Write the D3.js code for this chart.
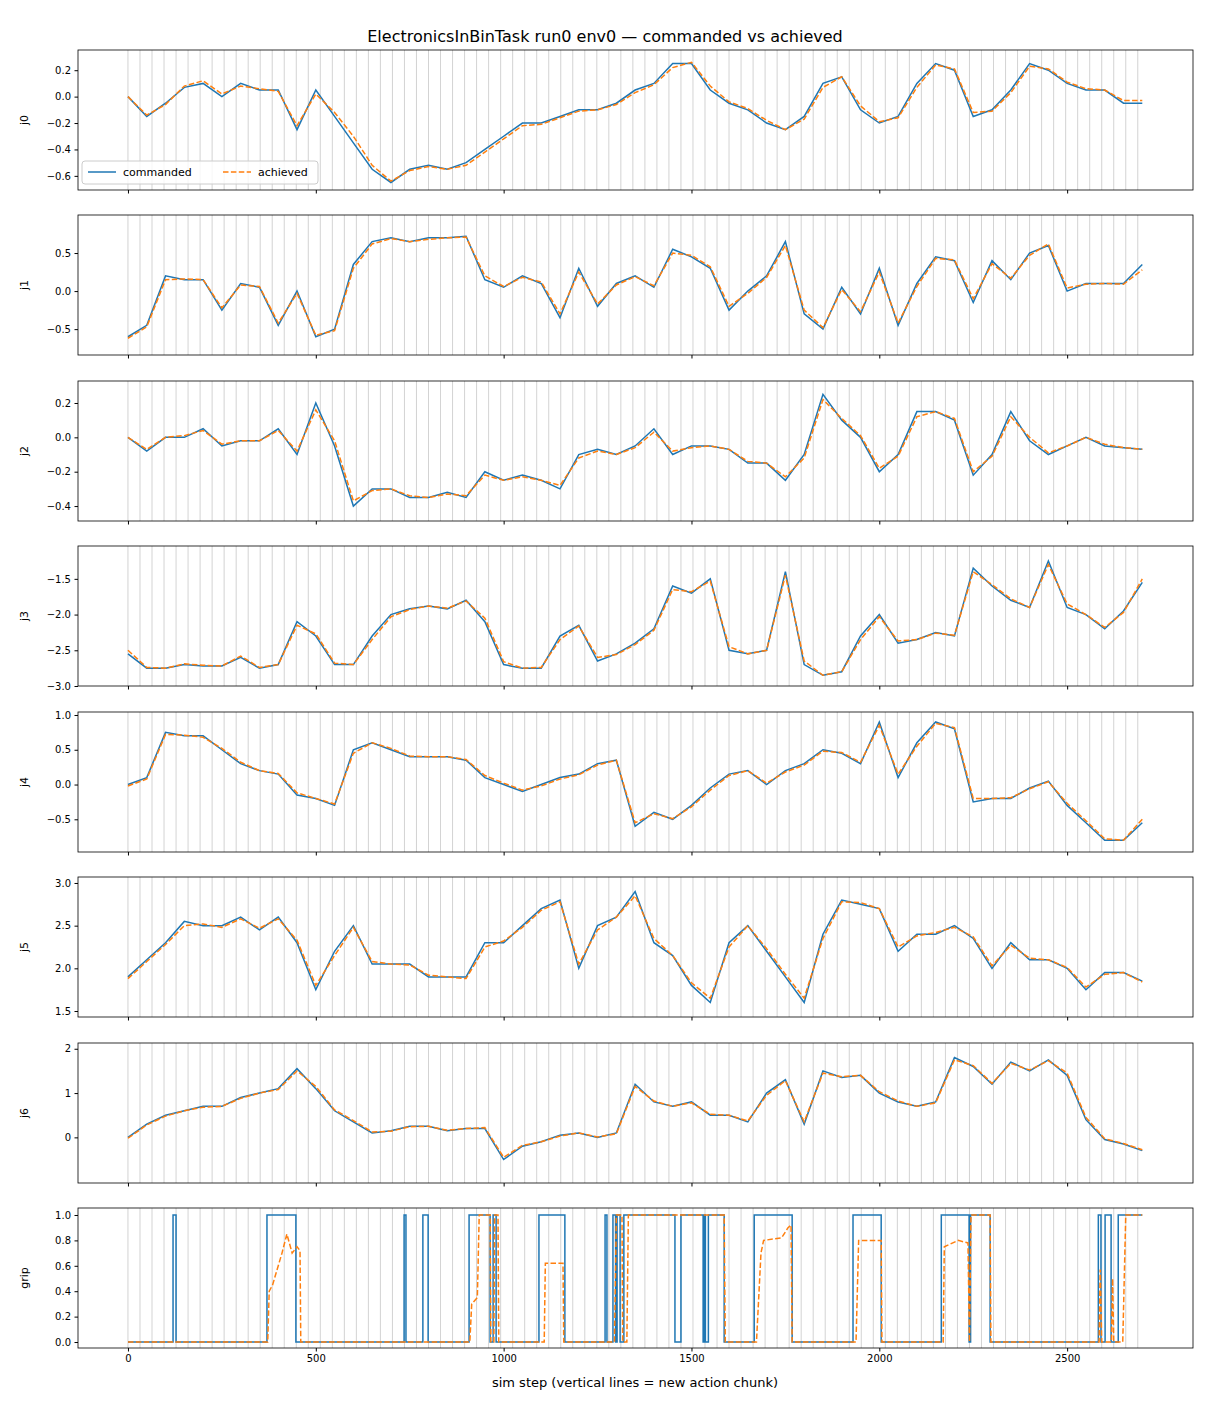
<!DOCTYPE html>
<html><head><meta charset="utf-8">
<script src="https://cdn.jsdelivr.net/npm/d3@7"></script>
<style>body{margin:0;background:#fff}svg{font-family:"DejaVu Sans",sans-serif}</style>
</head><body><svg id="c" width="1210" height="1408"></svg>
<script>
const steps=[0,50,100,150,200,250,300,350,400,450,500,550,600,650,700,750,800,850,900,950,1000,1050,1100,1150,1200,1250,1300,1350,1400,1450,1500,1550,1600,1650,1700,1750,1800,1850,1900,1950,2000,2050,2100,2150,2200,2250,2300,2350,2400,2450,2500,2550,2600,2650,2700];
const j0=[0.0,-0.15,-0.05,0.07,0.1,0.0,0.1,0.05,0.05,-0.25,0.05,-0.15,-0.35,-0.55,-0.65,-0.55,-0.52,-0.55,-0.5,-0.4,-0.3,-0.2,-0.2,-0.15,-0.1,-0.1,-0.05,0.05,0.1,0.25,0.25,0.05,-0.05,-0.1,-0.2,-0.25,-0.15,0.1,0.15,-0.1,-0.2,-0.15,0.1,0.25,0.2,-0.15,-0.1,0.05,0.25,0.2,0.1,0.05,0.05,-0.05,-0.05];
const j1=[-0.6,-0.45,0.2,0.15,0.15,-0.25,0.1,0.05,-0.45,0.0,-0.6,-0.5,0.35,0.65,0.7,0.65,0.7,0.7,0.72,0.15,0.05,0.2,0.1,-0.35,0.3,-0.2,0.1,0.2,0.05,0.55,0.45,0.3,-0.25,0.0,0.2,0.65,-0.3,-0.5,0.05,-0.3,0.3,-0.45,0.1,0.45,0.4,-0.15,0.4,0.15,0.5,0.6,0.0,0.1,0.1,0.1,0.35];
const j2=[0.0,-0.08,0.0,0.0,0.05,-0.05,-0.02,-0.02,0.05,-0.1,0.2,-0.05,-0.4,-0.3,-0.3,-0.35,-0.35,-0.32,-0.35,-0.2,-0.25,-0.22,-0.25,-0.3,-0.1,-0.07,-0.1,-0.05,0.05,-0.1,-0.05,-0.05,-0.07,-0.15,-0.15,-0.25,-0.1,0.25,0.1,0.0,-0.2,-0.1,0.15,0.15,0.1,-0.22,-0.1,0.15,-0.02,-0.1,-0.05,0.0,-0.05,-0.06,-0.07];
const j3=[-2.55,-2.75,-2.75,-2.7,-2.72,-2.72,-2.6,-2.75,-2.7,-2.1,-2.3,-2.7,-2.7,-2.3,-2.0,-1.92,-1.88,-1.92,-1.8,-2.1,-2.7,-2.75,-2.75,-2.3,-2.15,-2.65,-2.55,-2.4,-2.2,-1.6,-1.7,-1.5,-2.5,-2.55,-2.5,-1.4,-2.7,-2.85,-2.8,-2.3,-2.0,-2.4,-2.35,-2.25,-2.3,-1.35,-1.6,-1.8,-1.9,-1.25,-1.9,-2.0,-2.2,-1.95,-1.55];
const j4=[0.0,0.1,0.75,0.7,0.7,0.5,0.3,0.2,0.15,-0.15,-0.2,-0.3,0.5,0.6,0.5,0.4,0.4,0.4,0.35,0.1,0.0,-0.1,0.0,0.1,0.15,0.3,0.35,-0.6,-0.4,-0.5,-0.3,-0.05,0.15,0.2,0.0,0.2,0.3,0.5,0.45,0.3,0.9,0.1,0.6,0.9,0.8,-0.25,-0.2,-0.2,-0.05,0.05,-0.3,-0.55,-0.8,-0.8,-0.55];
const j5=[1.9,2.1,2.3,2.55,2.5,2.5,2.6,2.45,2.6,2.3,1.75,2.2,2.5,2.05,2.05,2.05,1.9,1.9,1.9,2.3,2.3,2.5,2.7,2.8,2.0,2.5,2.6,2.9,2.3,2.15,1.8,1.6,2.3,2.5,2.2,1.9,1.6,2.4,2.8,2.75,2.7,2.2,2.4,2.4,2.5,2.35,2.0,2.3,2.1,2.1,2.0,1.75,1.95,1.95,1.85];
const j6=[0.0,0.3,0.5,0.6,0.7,0.7,0.9,1.0,1.1,1.55,1.1,0.6,0.35,0.1,0.15,0.25,0.25,0.15,0.2,0.2,-0.5,-0.2,-0.1,0.05,0.1,0.0,0.1,1.2,0.8,0.7,0.8,0.5,0.5,0.35,1.0,1.3,0.3,1.5,1.35,1.4,1.0,0.8,0.7,0.8,1.8,1.6,1.2,1.7,1.5,1.75,1.4,0.4,-0.05,-0.15,-0.3];
const a0=[0.0,-0.14,-0.06,0.08,0.12,0.02,0.08,0.06,0.04,-0.22,0.02,-0.12,-0.3,-0.52,-0.64,-0.56,-0.53,-0.55,-0.52,-0.42,-0.32,-0.22,-0.21,-0.16,-0.11,-0.1,-0.06,0.03,0.09,0.22,0.26,0.08,-0.04,-0.09,-0.18,-0.25,-0.17,0.07,0.15,-0.07,-0.19,-0.16,0.07,0.24,0.21,-0.12,-0.11,0.03,0.23,0.21,0.11,0.06,0.05,-0.03,-0.03];
const a1=[-0.62,-0.47,0.15,0.16,0.15,-0.22,0.08,0.06,-0.42,-0.03,-0.58,-0.52,0.3,0.62,0.69,0.65,0.68,0.7,0.71,0.2,0.06,0.18,0.12,-0.3,0.25,-0.17,0.08,0.19,0.07,0.5,0.47,0.32,-0.2,-0.03,0.18,0.6,-0.25,-0.48,0.02,-0.27,0.25,-0.42,0.06,0.43,0.41,-0.1,0.36,0.17,0.47,0.62,0.04,0.09,0.1,0.09,0.28];
const a2=[0.0,-0.07,0.0,0.01,0.04,-0.04,-0.02,-0.02,0.04,-0.08,0.16,-0.02,-0.37,-0.31,-0.3,-0.34,-0.35,-0.33,-0.34,-0.22,-0.25,-0.23,-0.25,-0.28,-0.12,-0.08,-0.1,-0.06,0.03,-0.08,-0.06,-0.05,-0.07,-0.14,-0.15,-0.23,-0.12,0.22,0.11,0.01,-0.18,-0.11,0.12,0.15,0.11,-0.2,-0.11,0.12,0.0,-0.09,-0.05,0.0,-0.04,-0.06,-0.07];
const a3=[-2.5,-2.74,-2.75,-2.69,-2.71,-2.72,-2.58,-2.74,-2.7,-2.15,-2.27,-2.68,-2.7,-2.35,-2.03,-1.93,-1.88,-1.91,-1.81,-2.05,-2.66,-2.75,-2.74,-2.35,-2.16,-2.6,-2.56,-2.42,-2.22,-1.65,-1.68,-1.53,-2.45,-2.55,-2.5,-1.45,-2.65,-2.85,-2.8,-2.35,-2.03,-2.37,-2.35,-2.26,-2.29,-1.4,-1.58,-1.78,-1.9,-1.3,-1.85,-2.0,-2.18,-1.97,-1.5];
const a4=[-0.02,0.08,0.72,0.71,0.68,0.52,0.32,0.2,0.16,-0.12,-0.2,-0.28,0.45,0.6,0.52,0.41,0.4,0.4,0.36,0.13,0.02,-0.08,-0.02,0.08,0.14,0.28,0.35,-0.55,-0.42,-0.49,-0.32,-0.08,0.13,0.2,0.02,0.18,0.28,0.48,0.46,0.32,0.85,0.15,0.55,0.88,0.82,-0.2,-0.2,-0.19,-0.06,0.04,-0.27,-0.52,-0.78,-0.8,-0.5];
const a5=[1.88,2.08,2.28,2.5,2.52,2.48,2.58,2.47,2.58,2.33,1.8,2.15,2.48,2.08,2.05,2.04,1.92,1.9,1.88,2.25,2.32,2.48,2.68,2.78,2.05,2.45,2.6,2.85,2.35,2.15,1.83,1.65,2.25,2.5,2.23,1.93,1.65,2.35,2.78,2.77,2.7,2.25,2.38,2.42,2.48,2.37,2.03,2.27,2.12,2.1,2.01,1.78,1.93,1.95,1.84];
const a6=[-0.02,0.28,0.48,0.6,0.68,0.7,0.88,1.0,1.08,1.5,1.15,0.62,0.38,0.12,0.14,0.24,0.25,0.16,0.2,0.22,-0.45,-0.18,-0.1,0.03,0.1,0.01,0.08,1.15,0.82,0.7,0.78,0.52,0.5,0.37,0.95,1.28,0.35,1.45,1.37,1.4,1.03,0.82,0.7,0.78,1.75,1.62,1.22,1.67,1.52,1.73,1.45,0.45,-0.03,-0.14,-0.28];
const gripCmd=[[0,0],[120,1],[128,0],[370,1],[447,0],[735,1],[740,0],[785,1],[799,0],[908,1],[964,0],[972,1],[980,0],[1094,1],[1163,0],[1270,1],[1275,0],[1291,1],[1298,0],[1302,1],[1310,0],[1320,1],[1456,0],[1472,1],[1531,0],[1534,1],[1537,0],[1545,1],[1587,0],[1667,1],[1768,0],[1930,1],[2005,0],[2165,1],[2239,0],[2243,1],[2295,0],[2583,1],[2590,0],[2601,1],[2617,0],[2636,1],[2700,1]];
const gripAch=[[0,0],[372,0],[376,0.4],[385,0.45],[395,0.55],[410,0.7],[423,0.85],[437,0.7],[450,0.75],[458,0.72],[460,0],[910,0],[915,0.3],[930,0.35],[935,1],[964,1],[966,0],[974,0],[976,1],[985,1],[987,0],[1108,0],[1111,0.62],[1158,0.62],[1160,0],[1295,0],[1300,1],[1315,1],[1317,0],[1328,0],[1332,1],[1587,1],[1590,0],[1673,0],[1685,0.7],[1692,0.8],[1740,0.82],[1757,0.9],[1765,0.92],[1768,0],[1938,0],[1945,0.8],[2005,0.8],[2007,0],[2170,0],[2173,0.75],[2210,0.8],[2236,0.78],[2240,0],[2244,1],[2295,1],[2297,0],[2585,0],[2588,0.57],[2592,0],[2618,0],[2621,0.5],[2624,0],[2648,0],[2656,1],[2700,1]];
const chunkStarts=d3.range(0,2705,32);
const panels=[
 {name:"j0",c:j0,a:a0,dom:[-0.707,0.353],ticks:[-0.6,-0.4,-0.2,0.0,0.2],fmt:".1f"},
 {name:"j1",c:j1,a:a1,dom:[-0.84,1.0],ticks:[-0.5,0.0,0.5],fmt:".1f"},
 {name:"j2",c:j2,a:a2,dom:[-0.487,0.328],ticks:[-0.4,-0.2,0.0,0.2],fmt:".1f"},
 {name:"j3",c:j3,a:a3,dom:[-3.0,-1.04],ticks:[-3.0,-2.5,-2.0,-1.5],fmt:".1f"},
 {name:"j4",c:j4,a:a4,dom:[-0.97,1.043],ticks:[-0.5,0.0,0.5,1.0],fmt:".1f"},
 {name:"j5",c:j5,a:a5,dom:[1.43,3.07],ticks:[1.5,2.0,2.5,3.0],fmt:".1f"},
 {name:"j6",c:j6,a:a6,dom:[-1.03,2.13],ticks:[0,1,2],fmt:"d"},
 {name:"grip",dom:[-0.047,1.055],ticks:[0,0.2,0.4,0.6,0.8,1.0],fmt:".1f"}
];
const svg=d3.select("#c");
const L=78,R=1193,tops=[50,215,381,546,712,877,1043,1208],H=140;
const x=d3.scaleLinear().domain([-133,2835]).range([L,R]);
const fmtMinus=f=>v=>d3.format(f)(v).replace("−","-").replace("-","−");
svg.append("text").attr("x",605).attr("y",42).attr("text-anchor","middle").attr("font-size",16).text("ElectronicsInBinTask run0 env0 — commanded vs achieved");
panels.forEach((p,i)=>{
 const t=tops[i];
 const y=d3.scaleLinear().domain(p.dom).range([t+H,t]);
 const g=svg.append("g");
 g.selectAll("line.ch").data(chunkStarts).join("line").attr("x1",d=>x(d)).attr("x2",d=>x(d)).attr("y1",t).attr("y2",t+H).attr("stroke","#c8c8c8").attr("stroke-width",0.8);
 const clipId="cl"+i;
 svg.append("clipPath").attr("id",clipId).append("rect").attr("x",L).attr("y",t).attr("width",R-L).attr("height",H);
 const pg=g.append("g").attr("clip-path",`url(#${clipId})`);
 if(p.c){
  const ln=d3.line().x((d,k)=>x(steps[k])).y(d=>y(d));
  pg.append("path").attr("d",ln(p.c)).attr("fill","none").attr("stroke","#1f77b4").attr("stroke-width",1.5);
  pg.append("path").attr("d",ln(p.a)).attr("fill","none").attr("stroke","#ff7f0e").attr("stroke-width",1.5).attr("stroke-dasharray","5.5,2.4");
 } else {
  pg.append("path").attr("d",d3.line().curve(d3.curveStepAfter).x(d=>x(d[0])).y(d=>y(d[1]))(gripCmd)).attr("fill","none").attr("stroke","#1f77b4").attr("stroke-width",1.5);
  pg.append("path").attr("d",d3.line().x(d=>x(d[0])).y(d=>y(d[1]))(gripAch)).attr("fill","none").attr("stroke","#ff7f0e").attr("stroke-width",1.5).attr("stroke-dasharray","5.5,2.4");
 }
 const ya=g.append("g").attr("transform",`translate(${L},0)`).call(d3.axisLeft(y).tickValues(p.ticks).tickFormat(fmtMinus(p.fmt)).tickSize(3.5).tickPadding(3.5));
 ya.select(".domain").remove();
 ya.selectAll("text").attr("font-size",10).attr("font-family","DejaVu Sans").attr("fill","#000");
 const xa=g.append("g").attr("transform",`translate(0,${t+H})`).call(d3.axisBottom(x).tickValues([0,500,1000,1500,2000,2500]).tickSize(3.5).tickPadding(3.5).tickFormat(i===7?d3.format("d"):""));
 xa.select(".domain").remove();
 xa.selectAll("text").attr("font-size",10).attr("font-family","DejaVu Sans").attr("fill","#000");
 g.append("rect").attr("x",L).attr("y",t).attr("width",R-L).attr("height",H).attr("fill","none").attr("stroke","#000").attr("stroke-width",0.8);
 g.append("text").attr("transform",`translate(${L-50},${t+H/2}) rotate(-90)`).attr("text-anchor","middle").attr("font-size",11).text(p.name);
});
// legend
const lg=svg.append("g");
lg.append("rect").attr("x",82).attr("y",161).attr("width",236).attr("height",23).attr("rx",3).attr("fill","#fff").attr("fill-opacity",0.8).attr("stroke","#ccc");
lg.append("line").attr("x1",88).attr("x2",116).attr("y1",172).attr("y2",172).attr("stroke","#1f77b4").attr("stroke-width",1.5);
lg.append("text").attr("x",123).attr("y",176).attr("font-size",11).text("commanded");
lg.append("line").attr("x1",223).attr("x2",251).attr("y1",172).attr("y2",172).attr("stroke","#ff7f0e").attr("stroke-width",1.5).attr("stroke-dasharray","5.5,2.4");
lg.append("text").attr("x",258).attr("y",176).attr("font-size",11).text("achieved");
svg.append("text").attr("x",635).attr("y",1387).attr("text-anchor","middle").attr("font-size",13).text("sim step (vertical lines = new action chunk)");
</script></body></html>
